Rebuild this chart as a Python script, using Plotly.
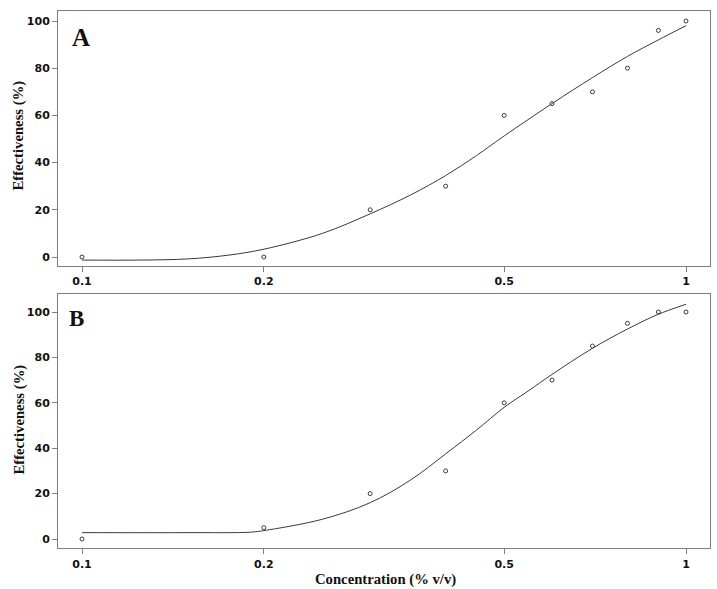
import plotly.graph_objects as go

# Observed data
conc = [0.1, 0.2, 0.3, 0.4, 0.5, 0.6, 0.7, 0.8, 0.9, 1.0]
eff_a = [0, 0, 20, 30, 60, 65, 70, 80, 96, 100]
eff_b = [0, 5, 20, 30, 60, 70, 85, 95, 100, 100]

# Fitted curves
fit_a_x = [0.1, 0.125, 0.15, 0.175, 0.2, 0.25, 0.3, 0.35, 0.4, 0.45, 0.5, 0.6, 0.7, 0.8, 0.9, 1.0]
fit_a_y = [-1.3, -1.3, -0.8, 0.8, 3.3, 10, 18.3, 26.3, 34.5, 43, 51.3, 65, 76, 85, 92, 98]
fit_b_x = [0.1, 0.15, 0.19, 0.2, 0.25, 0.3, 0.35, 0.4, 0.45, 0.5, 0.55, 0.6, 0.7, 0.8, 0.9, 1.0]
fit_b_y = [2.8, 2.8, 3.0, 3.7, 8.7, 16, 26, 37.5, 48, 58, 65.5, 72.5, 84, 92.5, 99, 103.4]

x_tickvals = [0.1, 0.2, 0.5, 1]
x_ticktext = ["0.1", "0.2", "0.5", "1"]
y_tickvals = [0, 20, 40, 60, 80, 100]

W, H = 717, 589
line_col = "#3a3a3a"
axis_col = "#7f7f7f"
tick_font = dict(family="DejaVu Sans", size=11, color="#111111", weight="bold")

fig = go.Figure()
fig.add_trace(go.Scatter(x=fit_a_x, y=fit_a_y, mode="lines", line=dict(color=line_col, width=1, shape="spline"),
                         xaxis="x", yaxis="y", showlegend=False, hoverinfo="skip"))
fig.add_trace(go.Scatter(x=conc, y=eff_a, mode="markers",
                         marker=dict(symbol="circle-open", size=4, color=line_col, line=dict(width=1, color=line_col)),
                         xaxis="x", yaxis="y", showlegend=False))
fig.add_trace(go.Scatter(x=fit_b_x, y=fit_b_y, mode="lines", line=dict(color=line_col, width=1, shape="spline"),
                         xaxis="x2", yaxis="y2", showlegend=False, hoverinfo="skip"))
fig.add_trace(go.Scatter(x=conc, y=eff_b, mode="markers",
                         marker=dict(symbol="circle-open", size=4, color=line_col, line=dict(width=1, color=line_col)),
                         xaxis="x2", yaxis="y2", showlegend=False))

xdom = [58 / W, 710 / W]
xrange_log = [-1 - 24 / 604, 24 / 604]

common_x = dict(type="log", range=xrange_log, domain=xdom, tickvals=x_tickvals, ticktext=x_ticktext,
                ticks="outside", ticklen=5, tickcolor=axis_col, showline=True, linecolor=axis_col,
                linewidth=1, mirror=True, showgrid=False, zeroline=False, tickfont=tick_font)
common_y = dict(tickvals=y_tickvals, ticks="outside", ticklen=5, tickcolor=axis_col, showline=True,
                linecolor=axis_col, linewidth=1, mirror=True, showgrid=False, zeroline=False,
                tickfont=tick_font)

fig.update_layout(
    width=W, height=H, autosize=False,
    margin=dict(l=0, r=0, t=0, b=0),
    paper_bgcolor="white", plot_bgcolor="white",
    xaxis=dict(**common_x, anchor="y"),
    yaxis=dict(**common_y, domain=[1 - 266 / H, 1 - 11 / H], range=[-9 / 2.36, 100 + 10 / 2.36], anchor="x"),
    xaxis2=dict(**common_x, anchor="y2"),
    yaxis2=dict(**common_y, domain=[1 - 548.3 / H, 1 - 294 / H], range=[-9.3 / 2.27, 100 + 18 / 2.27], anchor="x2"),
)

title_font = dict(family="Liberation Serif", size=14.7, color="#111111")
annotations = [
    dict(text="<b>Effectiveness (%)</b>", x=18.5 / W, y=1 - 136 / H, xref="paper", yref="paper",
         textangle=-90, showarrow=False, font=title_font, xanchor="center", yanchor="middle"),
    dict(text="<b>Effectiveness (%)</b>", x=18.5 / W, y=1 - 420 / H, xref="paper", yref="paper",
         textangle=-90, showarrow=False, font=title_font, xanchor="center", yanchor="middle"),
    dict(text="<b>Concentration (% v/v)</b>", x=385 / W, y=1 - 579 / H, xref="paper", yref="paper",
         showarrow=False, font=title_font, xanchor="center", yanchor="middle"),
    dict(text="<b>A</b>", x=80.5 / W, y=1 - 37 / H, xref="paper", yref="paper",
         showarrow=False, font=dict(family="Liberation Serif", size=25, color="#111111"),
         xanchor="center", yanchor="middle"),
    dict(text="<b>B</b>", x=76 / W, y=1 - 318 / H, xref="paper", yref="paper",
         showarrow=False, font=dict(family="Liberation Serif", size=23, color="#111111"),
         xanchor="center", yanchor="middle"),
]
fig.update_layout(annotations=annotations)

fig.write_html("out.html", config={"displayModeBar": False},
               post_script="document.body.style.margin='0px';document.body.style.overflow='hidden';")
